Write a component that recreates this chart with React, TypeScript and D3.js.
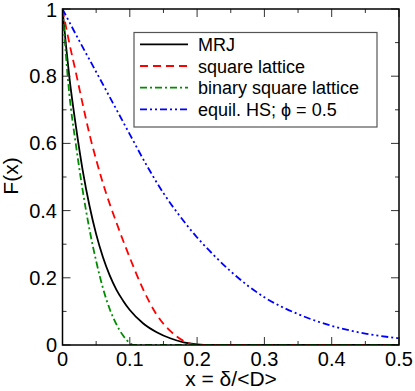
import * as d3 from "d3";

// values, [x, F(x)]
const mrj: [number, number][] = [
  [0, 1], [0.005, 0.895], [0.01, 0.8], [0.02, 0.65], [0.03, 0.52], [0.04, 0.415],
  [0.05, 0.33], [0.06, 0.262], [0.07, 0.208], [0.08, 0.165], [0.09, 0.132],
  [0.1, 0.104], [0.12, 0.064], [0.14, 0.038], [0.16, 0.02], [0.18, 0.008],
  [0.2, 0.002], [0.22, 0], [0.5, 0],
];
const squareLattice: [number, number][] = [
  [0, 1], [0.01, 0.9], [0.02, 0.81], [0.03, 0.717], [0.04, 0.628], [0.05, 0.552],
  [0.06, 0.482], [0.08, 0.365], [0.1, 0.26], [0.12, 0.165], [0.14, 0.09],
  [0.16, 0.042], [0.18, 0.012], [0.2, 0], [0.5, 0],
];
const binarySquare: [number, number][] = [
  [0, 1], [0.005, 0.865], [0.01, 0.75], [0.02, 0.595], [0.03, 0.46], [0.04, 0.345],
  [0.05, 0.25], [0.06, 0.17], [0.07, 0.108], [0.08, 0.062], [0.09, 0.028],
  [0.1, 0.006], [0.105, 0], [0.5, 0],
];
const equilHS: [number, number][] = [
  [0, 1], [0.025, 0.905], [0.05, 0.813], [0.075, 0.72], [0.1, 0.627], [0.125, 0.535],
  [0.15, 0.452], [0.175, 0.382], [0.2, 0.32], [0.225, 0.267], [0.25, 0.219],
  [0.3, 0.142], [0.35, 0.092], [0.4, 0.057], [0.45, 0.034], [0.5, 0.02],
];

const seriesNames = ["MRJ", "square lattice", "binary square lattice", "equil. HS; \u03d5 = 0.5"];
const seriesData = [mrj, squareLattice, binarySquare, equilHS];
const seriesColors = ["#000000", "#ff0000", "#008c00", "#0000ff"];
const seriesDash = ["", "8 5", "7 3 2 3", "7 3 2 3 2 3"];

const xTicks = [0, 0.1, 0.2, 0.3, 0.4, 0.5];
const yTicks = [0, 0.2, 0.4, 0.6, 0.8, 1];
const xTickLabels = ["0", "0.1", "0.2", "0.3", "0.4", "0.5"];
const yTickLabels = ["0", "0.2", "0.4", "0.6", "0.8", "1"];

const width = 415;
const height = 391;
const left = 62.5;
const right = 399;
const top = 9;
const bottom = 345;
const font = "'Liberation Sans', Arial, Helvetica, sans-serif";

export default function App() {
  const x = d3.scaleLinear().domain([0, 0.5]).range([left, right]);
  const y = d3.scaleLinear().domain([0, 1]).range([bottom, top]);

  const line = d3
    .line<[number, number]>()
    .x((d) => x(d[0]))
    .y((d) => y(d[1]))
    .curve(d3.curveMonotoneX);

  const xMinor = d3.range(0.05, 0.5, 0.1);
  const yMinor = d3.range(0.1, 1, 0.2);

  return (
    <svg
      width={width}
      height={height}
      style={{ position: "absolute", left: 0, top: 0, background: "#fff" }}
      fontFamily={font}
    >
      <defs>
        <clipPath id="plot">
          <rect x={left} y={top - 2} width={right - left} height={bottom - top + 2} />
        </clipPath>
      </defs>

      <g clipPath="url(#plot)">
        {seriesData.map((d, i) => (
          <path
            key={i}
            d={line(d) ?? ""}
            fill="none"
            stroke={seriesColors[i]}
            strokeWidth={1.8}
            strokeDasharray={seriesDash[i]}
          />
        ))}
      </g>

      {/* ticks on all four sides, pointing inward */}
      <g stroke="#333" strokeWidth={1}>
        {xTicks.map((t) => (
          <g key={"xt" + t}>
            <line x1={x(t)} x2={x(t)} y1={bottom} y2={bottom - 8} />
            <line x1={x(t)} x2={x(t)} y1={top} y2={top + 8} />
          </g>
        ))}
        {xMinor.map((t) => (
          <g key={"xm" + t}>
            <line x1={x(t)} x2={x(t)} y1={bottom} y2={bottom - 4} />
            <line x1={x(t)} x2={x(t)} y1={top} y2={top + 4} />
          </g>
        ))}
        {yTicks.map((t) => (
          <g key={"yt" + t}>
            <line x1={left} x2={left + 8} y1={y(t)} y2={y(t)} />
            <line x1={right} x2={right - 8} y1={y(t)} y2={y(t)} />
          </g>
        ))}
        {yMinor.map((t) => (
          <g key={"ym" + t}>
            <line x1={left} x2={left + 4} y1={y(t)} y2={y(t)} />
            <line x1={right} x2={right - 4} y1={y(t)} y2={y(t)} />
          </g>
        ))}
      </g>

      <rect
        x={left}
        y={top}
        width={right - left}
        height={bottom - top}
        fill="none"
        stroke="#000"
        strokeWidth={1.5}
      />

      {/* tick labels */}
      <g fontSize={20} fill="#000">
        {xTicks.map((t, i) => (
          <text key={"xl" + t} x={x(t)} y={366} textAnchor="middle">
            {xTickLabels[i]}
          </text>
        ))}
        {yTicks.map((t, i) => (
          <text key={"yl" + t} x={57} y={Math.max(y(t) + 7, 17)} textAnchor="end">
            {yTickLabels[i]}
          </text>
        ))}
      </g>

      <text x={231} y={386} fontSize={21} textAnchor="middle">
        {"x = \u03b4/<D>"}
      </text>
      <text transform="translate(18,176) rotate(-90)" fontSize={21} textAnchor="middle">
        F(x)
      </text>

      {/* legend */}
      <rect x={134} y={32.5} width={243} height={94.5} fill="#fff" stroke="#555" strokeWidth={1.2} />
      {seriesNames.map((name, i) => {
        const ly = 44.3 + i * 21.7;
        return (
          <g key={name}>
            <line
              x1={140}
              x2={188}
              y1={ly}
              y2={ly}
              stroke={seriesColors[i]}
              strokeWidth={1.8}
              strokeDasharray={seriesDash[i]}
            />
            <text x={198} y={ly + 6.5} fontSize={18}>
              {name}
            </text>
          </g>
        );
      })}
    </svg>
  );
}
